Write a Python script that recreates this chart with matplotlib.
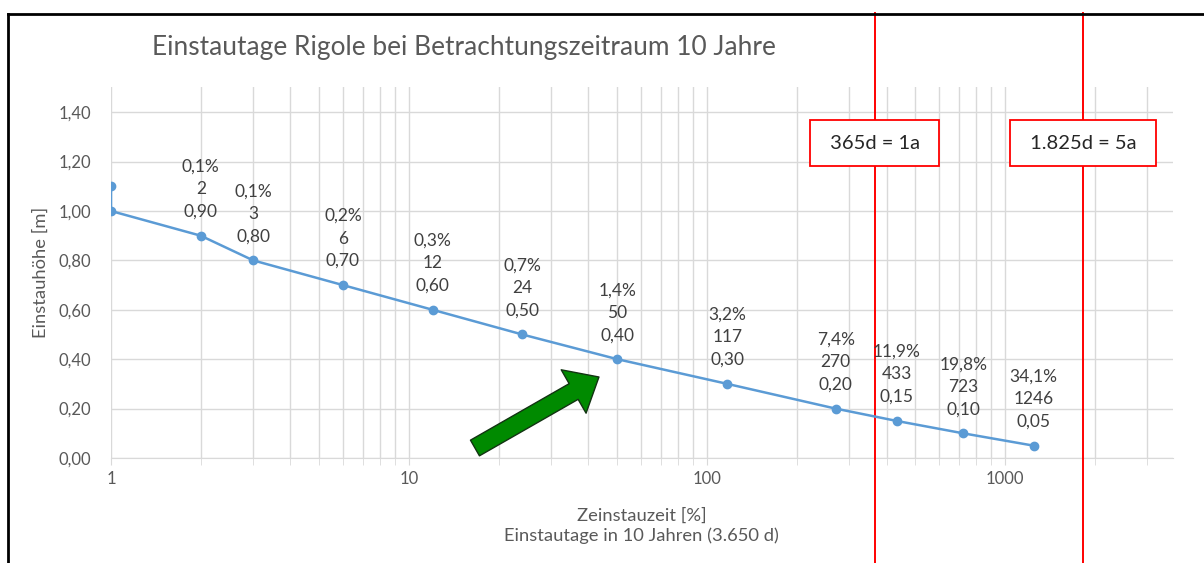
import matplotlib
matplotlib.use("Agg")
import matplotlib.pyplot as plt
from matplotlib.lines import Line2D
from matplotlib.patches import FancyArrowPatch
from matplotlib.ticker import FixedLocator, FixedFormatter, NullFormatter

# --- data ---
einstautage = [1, 1, 2, 3, 6, 12, 24, 50, 117, 270, 433, 723, 1246]
einstauhoehe = [1.10, 1.00, 0.90, 0.80, 0.70, 0.60, 0.50, 0.40, 0.30, 0.20, 0.15, 0.10, 0.05]
prozent = [None, None, "0,1%", "0,1%", "0,2%", "0,3%", "0,7%", "1,4%", "3,2%",
           "7,4%", "11,9%", "19,8%", "34,1%"]

y_ticks = [0.0, 0.2, 0.4, 0.6, 0.8, 1.0, 1.2, 1.4]
y_ticklabels = ["0,00", "0,20", "0,40", "0,60", "0,80", "1,00", "1,20", "1,40"]
x_ticks = [1, 10, 100, 1000]
x_ticklabels = ["1", "10", "100", "1000"]

marker_tage = [365, 1825]
marker_texte = ["365d = 1a", "1.825d = 5a"]

titel = "Einstautage Rigole bei Betrachtungszeitraum 10 Jahre"
x_titel = "Zeinstauzeit [%]\nEinstautage in 10 Jahren (3.650 d)"
y_titel = "Einstauhöhe [m]"

plt.rcParams["font.family"] = ["Lato", "DejaVu Sans"]
grau = "#595959"
gitter = "#D9D9D9"
blau = "#5B9BD5"

fig = plt.figure(figsize=(12.04, 5.63), dpi=100)
ax = fig.add_axes([0.0922, 0.1865, 0.974 - 0.0922, 0.8446 - 0.1865])

ax.plot(einstautage, einstauhoehe, color=blau, lw=1.8, marker="o", ms=6, zorder=4)

for x, y, p in zip(einstautage, einstauhoehe, prozent):
    if p is None:
        continue
    txt = f"{p}\n{x}\n{y:.2f}".replace(".", ",")
    ax.annotate(txt, (x, y), xytext=(0, 16), textcoords="offset pixels",
                ha="center", va="bottom", fontsize=12.5, color="#404040",
                linespacing=1.5, zorder=5)

ax.set_xscale("log")
ax.set_xlim(1, 3650)
ax.set_ylim(0, 1.5)

minor = [m * 10 ** e for e in range(4) for m in range(2, 10) if m * 10 ** e < 3650]
ax.xaxis.set_major_locator(FixedLocator(x_ticks))
ax.xaxis.set_major_formatter(FixedFormatter(x_ticklabels))
ax.xaxis.set_minor_locator(FixedLocator(minor))
ax.xaxis.set_minor_formatter(NullFormatter())
ax.set_yticks(y_ticks)
ax.set_yticklabels(y_ticklabels)

ax.grid(True, which="both", axis="x", color=gitter, lw=1)
ax.grid(True, which="major", axis="y", color=gitter, lw=1)
ax.set_axisbelow(True)
for s in ["top", "right", "left"]:
    ax.spines[s].set_visible(False)
ax.spines["bottom"].set_color(gitter)
ax.tick_params(axis="x", which="both", length=5, color=gitter, labelcolor=grau,
               labelsize=12, pad=4)
ax.tick_params(axis="y", length=0, labelcolor=grau, labelsize=12, pad=14)

ax.set_xlabel(x_titel, color=grau, fontsize=13.2, labelpad=15, linespacing=1.3)
ax.set_ylabel(y_titel, color=grau, fontsize=13.2, labelpad=7)

fig.text(152 / 1204, 1 - 47 / 563, titel, fontsize=18.9, color=grau, va="center", ha="left")

# red reference lines with labelled boxes
trans = ax.get_xaxis_transform()
for t, label in zip(marker_tage, marker_texte):
    ax.plot([t, t], [-0.3, 1.2], color="#FF0000", lw=1.4, transform=trans,
            clip_on=False, zorder=3)
    ax.text(t, 0.849, f" {label} ", transform=trans, ha="center", va="center",
            fontsize=14.5, color="#262626", zorder=6,
            bbox=dict(boxstyle="square,pad=0.72", fc="white", ec="#FF0000", lw=1.3))

# green arrow
pfeil = FancyArrowPatch((0.3428, 0.027), (0.4596, 0.2186), transform=ax.transAxes,
                        arrowstyle="simple,head_length=21,head_width=36,tail_width=13",
                        mutation_scale=1, shrinkA=0, shrinkB=0,
                        fc="#008A00", ec="#123312", lw=1, clip_on=False, zorder=6)
ax.add_patch(pfeil)

# outer frame (top and left edge)
fig.add_artist(Line2D([8 / 1204, 8 / 1204], [0, 1 - 14 / 563], color="black", lw=2,
                      transform=fig.transFigure))
fig.add_artist(Line2D([8 / 1204, 1], [1 - 14 / 563, 1 - 14 / 563], color="black", lw=2,
                      transform=fig.transFigure))

fig.savefig("out.png", dpi=100)
